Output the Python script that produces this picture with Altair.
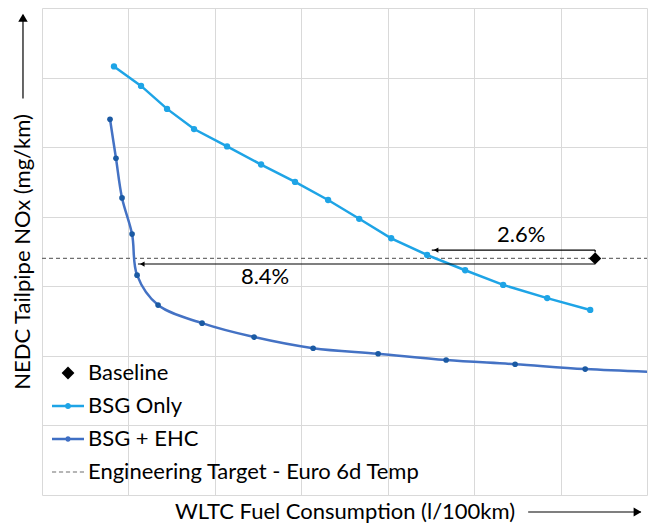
import altair as alt
import pandas as pd

# ---- data (chart units: 1 grid cell = 1) ----
bsg_x = [0.833, 1.146, 1.447, 1.759, 2.141, 2.535, 2.928, 3.31, 3.67, 4.04, 4.456, 4.896, 5.336, 5.845, 6.343]
bsg_y = [6.16, 5.88, 5.55, 5.26, 5.01, 4.75, 4.50, 4.24, 3.97, 3.69, 3.45, 3.23, 3.02, 2.83, 2.66]
ehc_x = [0.787, 0.856, 0.926, 1.042, 1.10, 1.343, 1.852, 2.454, 3.137, 3.889, 4.676, 5.474, 6.285, 7.3]
ehc_y = [5.40, 4.84, 4.27, 3.75, 3.16, 2.73, 2.47, 2.27, 2.11, 2.03, 1.94, 1.88, 1.81, 1.76]
baseline_x = [6.40]
baseline_y = [3.40]
target_y = 3.40

labels_pct = ["2.6%", "8.4%"]
labels_x = [5.544, 2.581]
labels_y = [3.736, 3.13]

series = ["Baseline", "BSG Only", "BSG + EHC", "Engineering Target - Euro 6d Temp"]
series_colors = ["#000000", "#1ea4e6", "#3f6fc4", "#6f6f6f"]

x_title = "WLTC Fuel Consumption (l/100km)"
y_title = "NEDC Tailpipe NOx (mg/km)"

FONT = "Lato"
FS = 22

bsg = pd.DataFrame({"x": bsg_x, "y": bsg_y})
ehc = pd.DataFrame({"x": ehc_x, "y": ehc_y})
base = pd.DataFrame({"x": baseline_x, "y": baseline_y})
target = pd.DataFrame({"x": [0], "x2": [7], "y": [target_y]})
pct = pd.DataFrame({"t": labels_pct, "x": labels_x, "y": labels_y})

# annotation arrows (data units)
rules = pd.DataFrame({
    "x":  [4.51, 6.40, 1.11, -0.22, 5.625],
    "x2": [6.40, 6.40, 6.40, -0.22, 6.93],
    "y":  [3.52, 3.49, 3.32, 5.70, -0.244],
    "y2": [3.52, 3.52, 3.32, 6.90, -0.244],
})
heads = pd.DataFrame({
    "x": [4.56, 1.16, -0.22, 6.89],
    "y": [3.52, 3.32, 6.86, -0.244],
    "kind": ["left", "left", "up", "right"],
})
legend_df = pd.DataFrame({"series": series, "x": [-5] * 4, "y": [-5] * 4})

xs = alt.Scale(domain=[0, 7], nice=False, zero=False)
ys = alt.Scale(domain=[0, 7], nice=False, zero=False)
xa = alt.Axis(values=list(range(8)), labels=False, ticks=False, domain=False, grid=True,
              title=x_title, titleFont=FONT, titleFontSize=FS, titleFontWeight="normal",
              titleColor="#000000", titlePadding=6)
ya = alt.Axis(values=list(range(8)), labels=False, ticks=False, domain=False, grid=True,
              title=y_title, titleFont=FONT, titleFontSize=FS, titleFontWeight="normal",
              titleColor="#000000", titlePadding=8)

grid_layer = alt.Chart(bsg).mark_point(opacity=0).encode(
    x=alt.X("x:Q", scale=xs, axis=xa), y=alt.Y("y:Q", scale=ys, axis=ya))

target_layer = alt.Chart(target).mark_rule(color="#6f6f6f", strokeWidth=1.2, strokeDash=[4, 3]).encode(
    x="x:Q", x2="x2:Q", y="y:Q")

bsg_line = alt.Chart(bsg).mark_line(color="#1ea4e6", strokeWidth=2.5).encode(x="x:Q", y="y:Q")
bsg_pts = alt.Chart(bsg).mark_point(filled=True, color="#1ea4e6", size=40, opacity=1).encode(x="x:Q", y="y:Q")

ehc_line = alt.Chart(ehc).mark_line(color="#4472c4", strokeWidth=2.5, interpolate="catmull-rom", clip=True).encode(
    x="x:Q", y="y:Q")
ehc_pts = alt.Chart(ehc).mark_point(filled=True, color="#1b5aa3", size=32, opacity=1, clip=True).encode(
    x="x:Q", y="y:Q")

rule_layer = alt.Chart(rules).mark_rule(color="#000000", strokeWidth=1.2).encode(
    x="x:Q", x2="x2:Q", y="y:Q", y2="y2:Q")
head_left = alt.Chart(heads).transform_filter("datum.kind == 'left'").mark_point(
    shape="triangle-left", filled=True, color="#000000", size=28, opacity=1).encode(x="x:Q", y="y:Q")
head_up = alt.Chart(heads).transform_filter("datum.kind == 'up'").mark_point(
    shape="triangle-up", filled=True, color="#000000", size=90, opacity=1).encode(x="x:Q", y="y:Q")
head_right = alt.Chart(heads).transform_filter("datum.kind == 'right'").mark_point(
    shape="triangle-right", filled=True, color="#000000", size=80, opacity=1).encode(x="x:Q", y="y:Q")

base_layer = alt.Chart(base).mark_point(shape="diamond", filled=True, color="#000000", size=150, opacity=1).encode(
    x="x:Q", y="y:Q")

pct_layer = alt.Chart(pct).mark_text(font=FONT, fontSize=FS, color="#000000").encode(
    x="x:Q", y="y:Q", text="t:N")

# legend symbols (custom unit-square paths, all drawn clockwise so they fill solid)
diamond_path = "M0,-0.4L0.4,0L0,0.4L-0.4,0Z"
line_dot_a = "M-1,-0.08H1V0.08H-1Z M-0.19,0A0.19,0.19 0 1 1 0.19,0A0.19,0.19 0 1 1 -0.19,0Z"
line_dot_b = "M-1,-0.08H1V0.08H-1Z M-0.17,0A0.17,0.17 0 1 1 0.17,0A0.17,0.17 0 1 1 -0.17,0Z"
dash_path = " ".join(
    f"M{s:.3f},-0.035H{s + 0.26:.3f}V0.035H{s:.3f}Z" for s in [-1, -0.565, -0.13, 0.305, 0.74])

leg = alt.Legend(title=None, orient="none", legendX=10, legendY=349,
                 symbolSize=1024, symbolStrokeWidth=0, labelFont=FONT,
                 labelFontSize=FS, labelColor="#000000", labelOffset=4,
                 labelLimit=600, rowPadding=6, padding=0)

legend_layer = alt.Chart(legend_df).mark_point(filled=True, opacity=1, clip=True).encode(
    x="x:Q", y="y:Q",
    color=alt.Color("series:N", scale=alt.Scale(domain=series, range=series_colors), legend=leg),
    shape=alt.Shape("series:N", scale=alt.Scale(domain=series,
                                                  range=[diamond_path, line_dot_a, line_dot_b, dash_path]),
                    legend=leg),
)

chart = alt.layer(
    grid_layer, target_layer, bsg_line, bsg_pts, ehc_line, ehc_pts,
    rule_layer, head_left, head_up, head_right, base_layer, pct_layer, legend_layer
).properties(
    width=605, height=487,
    autosize=alt.AutoSizeParams(type="none"),
    padding={"left": 42, "top": 8, "right": 8, "bottom": 30},
).configure_view(stroke=None).configure_axis(gridColor="#d9d9d9", gridWidth=1)

chart.save("out.html", embed_options={"renderer": "svg", "actions": False})
